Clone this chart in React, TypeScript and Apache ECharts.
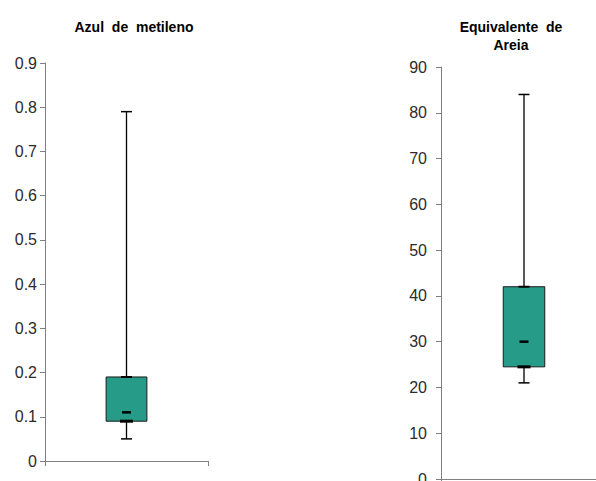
import React, { useEffect, useRef } from "react";
import * as echarts from "echarts";

// Box statistics: [min, Q1, median, Q3, max]
const azulCategories = ["Azul de metileno"];
const azulStats = [0.05, 0.09, 0.11, 0.19, 0.79];
const areiaCategories = ["Equivalente de Areia"];
const areiaStats = [21, 24.5, 30, 42, 84];

const azulTicks = { min: 0, max: 0.9, interval: 0.1 };
const areiaTicks = { min: 0, max: 90, interval: 10 };

const BOX_COLOR = "#269B87";
const FONT = "Liberation Sans, Arial, sans-serif";

function renderBox(params: any, api: any) {
  const x = api.value(0);
  const vMin = api.value(1);
  const vQ1 = api.value(2);
  const vMed = api.value(3);
  const vQ3 = api.value(4);
  const vMax = api.value(5);
  const pMin = api.coord([x, vMin]);
  const pQ1 = api.coord([x, vQ1]);
  const pMed = api.coord([x, vMed]);
  const pQ3 = api.coord([x, vQ3]);
  const pMax = api.coord([x, vMax]);
  const bw = api.size([1, 0])[0] * 0.25;
  const cx = pMed[0];
  const cap = (y: number, w: number, lw: number) => ({
    type: "line",
    shape: { x1: cx - w / 2, y1: y, x2: cx + w / 2, y2: y },
    style: { stroke: "#000", lineWidth: lw },
  });
  return {
    type: "group",
    children: [
      {
        type: "line",
        shape: { x1: cx, y1: pMax[1], x2: cx, y2: pMin[1] },
        style: { stroke: "#000", lineWidth: 1.3 },
      },
      {
        type: "rect",
        shape: { x: cx - bw / 2, y: pQ3[1], width: bw, height: pQ1[1] - pQ3[1] },
        style: { fill: BOX_COLOR, stroke: "#1a1a1a", lineWidth: 1 },
      },
      cap(pMax[1], 11, 1.5),
      cap(pMin[1], 11, 1.5),
      cap(pQ3[1], 11, 2),
      cap(pQ1[1], 13, 3),
      cap(pMed[1], 9, 2.5),
    ],
  };
}

export default function App() {
  const ref = useRef<HTMLDivElement>(null);
  useEffect(() => {
    document.body.style.margin = "0";
    const chart = echarts.init(ref.current!, null, { renderer: "svg" });
    const axisLabel = {
      color: "#2b2b2b",
      fontSize: 16,
      fontFamily: FONT,
    };
    const yAxisCommon = {
      type: "value" as const,
      axisLine: { show: true, lineStyle: { color: "#808080", width: 1 } },
      axisTick: { show: true, length: 5, lineStyle: { color: "#808080" } },
      splitLine: { show: false },
    };
    const xAxisCommon = {
      type: "category" as const,
      axisLine: { show: true, lineStyle: { color: "#808080", width: 1 } },
      axisTick: { show: true, length: 5, lineStyle: { color: "#808080" } },
      axisLabel: { show: false },
      splitLine: { show: false },
    };
    const titleStyle = {
      fontSize: 14,
      fontWeight: "bold" as const,
      color: "#000",
      lineHeight: 18,
      fontFamily: FONT,
    };
    chart.setOption({
      animation: false,
      backgroundColor: "#fff",
      title: [
        {
          text: "Azul  de  metileno",
          left: 129,
          top: 13,
          textAlign: "center",
          textStyle: titleStyle,
        },
        {
          text: "Equivalente  de\nAreia",
          left: 506,
          top: 13,
          textAlign: "center",
          textStyle: titleStyle,
        },
      ],
      grid: [
        { left: 45, top: 63, width: 163, height: 398, outerBoundsMode: "none" },
        { left: 441, top: 67, width: 166, height: 412, outerBoundsMode: "none" },
      ],
      xAxis: [
        { ...xAxisCommon, gridIndex: 0, data: azulCategories },
        { ...xAxisCommon, gridIndex: 1, data: areiaCategories },
      ],
      yAxis: [
        {
          ...yAxisCommon,
          gridIndex: 0,
          ...azulTicks,
          axisLabel: {
            ...axisLabel,
            margin: 8,
            formatter: (v: number) => String(Math.round(v * 10) / 10),
          },
        },
        { ...yAxisCommon, gridIndex: 1, ...areiaTicks, axisLabel: { ...axisLabel, margin: 14 } },
      ],
      series: [
        {
          type: "custom",
          xAxisIndex: 0,
          yAxisIndex: 0,
          renderItem: renderBox,
          data: [[0, ...azulStats]],
          encode: { x: 0, y: [1, 2, 3, 4, 5] },
        },
        {
          type: "custom",
          xAxisIndex: 1,
          yAxisIndex: 1,
          renderItem: renderBox,
          data: [[0, ...areiaStats]],
          encode: { x: 0, y: [1, 2, 3, 4, 5] },
        },
      ],
    });
    return () => chart.dispose();
  }, []);
  return (
    <div
      ref={ref}
      style={{ position: "fixed", left: 0, top: 0, width: 596, height: 481 }}
    />
  );
}
